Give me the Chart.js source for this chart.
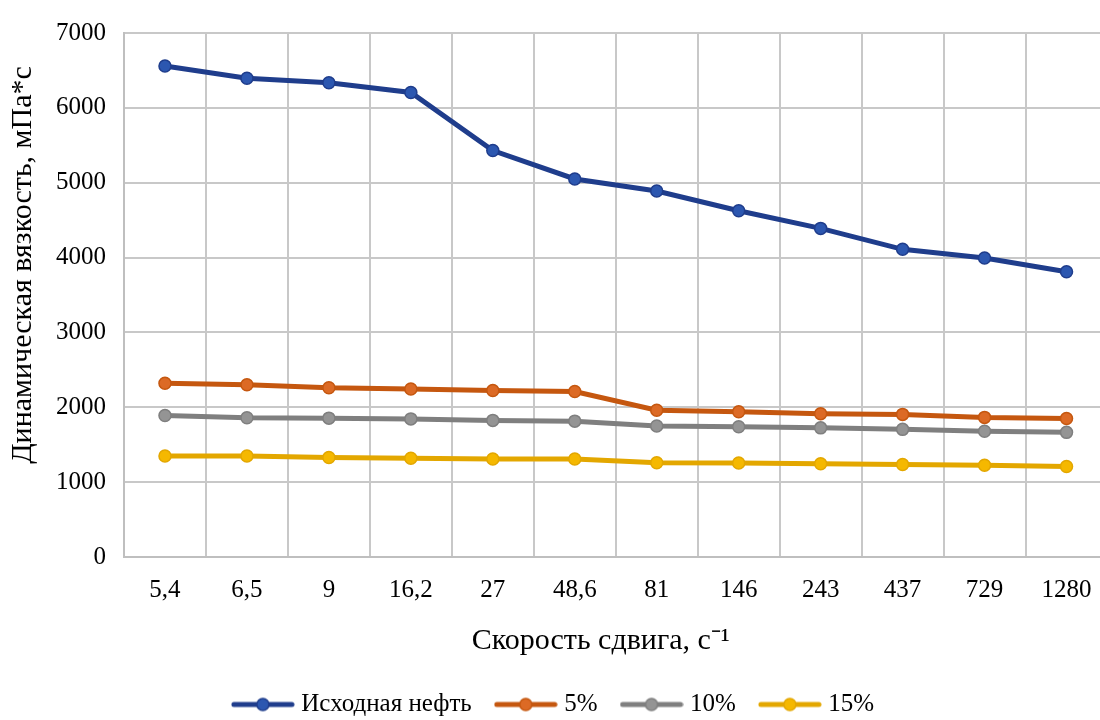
<!DOCTYPE html>
<html>
<head>
<meta charset="utf-8">
<script src="https://cdn.jsdelivr.net/npm/chart.js@4.4.1/dist/chart.umd.min.js"></script>
<style>
  html, body { margin: 0; padding: 0; background: #fff; overflow: hidden; }
  #wrap { width: 1100px; height: 720px; position: relative; overflow: hidden; }
</style>
</head>
<body>
<div id="wrap"><canvas id="c" width="1115" height="727"></canvas></div>
<script>
const categories = ['5,4', '6,5', '9', '16,2', '27', '48,6', '81', '146', '243', '437', '729', '1280'];
const seriesNames = ['Исходная нефть', '5%', '10%', '15%'];
const crude = [6560, 6395, 6335, 6205, 5430, 5050, 4890, 4625, 4390, 4110, 3995, 3810];
const pct5 = [2320, 2300, 2260, 2245, 2225, 2210, 1960, 1940, 1915, 1905, 1865, 1850];
const pct10 = [1890, 1860, 1855, 1845, 1825, 1815, 1750, 1740, 1725, 1705, 1680, 1665];
const pct15 = [1350, 1350, 1330, 1320, 1310, 1310, 1260, 1255, 1245, 1235, 1225, 1210];
const yTicks = [0, 1000, 2000, 3000, 4000, 5000, 6000, 7000];

const lineColors = ['#1F3D8C', '#C5570F', '#7F7F7F', '#E3A700'];
const markerColors = ['#2C57B0', '#DC6A25', '#949494', '#F5B800'];

const serif = "'Liberation Serif', 'Times New Roman', serif";
Chart.defaults.font.family = serif;
Chart.defaults.color = '#000';

function legendImage(line, marker) {
  const cv = document.createElement('canvas');
  cv.width = 64; cv.height = 16;
  const g = cv.getContext('2d');
  g.strokeStyle = line; g.lineWidth = 5; g.lineCap = 'round';
  g.beginPath(); g.moveTo(3, 8); g.lineTo(61, 8); g.stroke();
  g.fillStyle = marker; g.strokeStyle = line; g.lineWidth = 1.5;
  g.beginPath(); g.arc(32, 8, 6, 0, Math.PI * 2); g.fill(); g.stroke();
  return cv;
}

const dataSets = [crude, pct5, pct10, pct15];
const datasets = dataSets.map((d, i) => ({
  label: seriesNames[i],
  data: d,
  borderColor: lineColors[i],
  backgroundColor: markerColors[i],
  borderWidth: 5,
  pointRadius: 6,
  pointBorderWidth: 1.5,
  pointBorderColor: lineColors[i],
  pointBackgroundColor: markerColors[i],
  tension: 0,
  pointStyle: 'circle',
  legendImg: legendImage(lineColors[i], markerColors[i])
}));

const NB = '\u00A0';

new Chart(document.getElementById('c'), {
  type: 'line',
  data: { labels: categories, datasets },
  options: {
    responsive: false,
    animation: false,
    layout: { padding: { left: 0, right: 4, top: -2, bottom: 0 } },
    plugins: {
      tooltip: { enabled: false },
      legend: {
        position: 'bottom',
        labels: {
          font: { family: serif, size: 25 },
          color: '#000',
          usePointStyle: true,
          pointStyleWidth: 52,
          padding: 28,
          boxHeight: 16,
          generateLabels(chart) {
            return chart.data.datasets.map((ds, i) => ({
              text: ds.label,
              pointStyle: ds.legendImg,
              fillStyle: ds.backgroundColor,
              strokeStyle: ds.borderColor,
              lineWidth: 0,
              hidden: false,
              datasetIndex: i,
              fontColor: '#000'
            }));
          }
        }
      }
    },
    scales: {
      x: {
        offset: true,
        grid: { offset: true, color: '#C8C8C8', lineWidth: 2, drawTicks: false },
        border: { color: '#BFBFBF', width: 2 },
        ticks: { font: { family: serif, size: 25 }, color: '#000', padding: 18, maxRotation: 0 },
        title: { display: true, text: 'Скорость сдвига, с⁻¹' + NB.repeat(4), font: { family: serif, size: 30 }, color: '#000', padding: { top: 0, bottom: 5 } }
      },
      y: {
        min: 0, max: 7000,
        afterBuildTicks(scale) { scale.ticks = yTicks.map(v => ({ value: v })); },
        grid: { color: '#C8C8C8', lineWidth: 2, drawTicks: false },
        border: { color: '#BFBFBF', width: 2 },
        ticks: { font: { family: serif, size: 25 }, color: '#000', padding: 18, callback: (v) => String(v) },
        title: { display: true, text: NB.repeat(8) + 'Динамическая вязкость, мПа*с', font: { family: serif, size: 30, lineHeight: 1 }, color: '#000', padding: { top: 8, bottom: 0 } }
      }
    }
  }
});
</script>
</body>
</html>
